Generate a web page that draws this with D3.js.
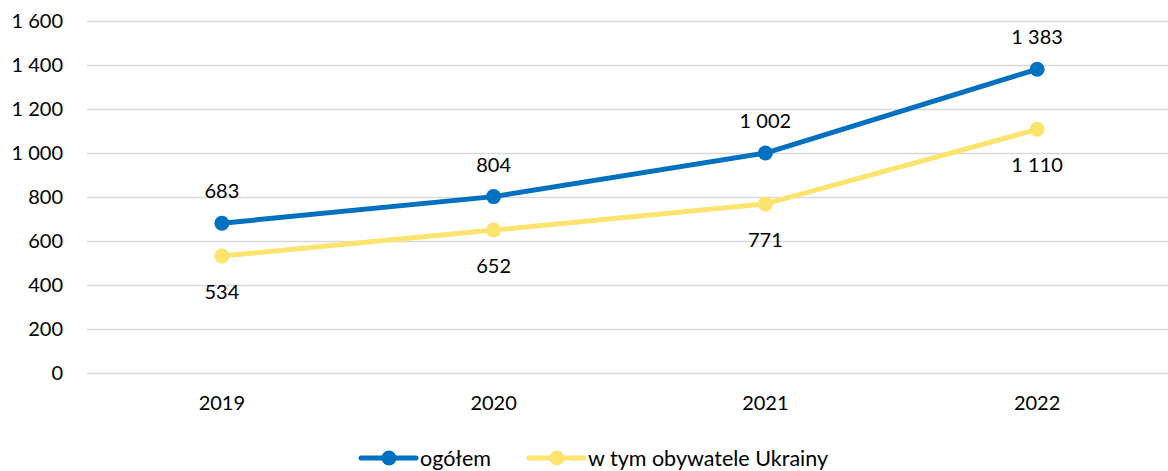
<!DOCTYPE html>
<html>
<head>
<meta charset="utf-8">
<script src="https://cdn.jsdelivr.net/npm/d3@7"></script>
<style>
  html, body { margin: 0; padding: 0; background: #fff; }
  svg { display: block; font-family: Lato, "Open Sans", sans-serif; }
</style>
</head>
<body>
<svg id="chart" width="1168" height="471"></svg>
<script>
// Years on the category axis
const years = ["2019", "2020", "2021", "2022"];
// Total count
const totalValues = [683, 804, 1002, 1383];
// Of which citizens of Ukraine
const ukraineValues = [534, 652, 771, 1110];
// Value axis ticks
const yTicks = [0, 200, 400, 600, 800, 1000, 1200, 1400, 1600];

const seriesNames = ["ogółem", "w tym obywatele Ukrainy"];
const seriesColors = ["#0070C0", "#FCE46F"];

const svg = d3.select("#chart");
const W = 1168;
const FS = 20;

// thousands separated by a space, Polish style
const fmt = v => d3.format(",")(v).replace(/,/g, " ");

const x = d3.scaleBand().domain(years).range([86, 1173]);
const y = d3.scaleLinear().domain([0, 1600]).range([373.5, 21.5]);

// Horizontal gridlines
svg.append("g")
  .selectAll("line")
  .data(yTicks)
  .join("line")
  .attr("x1", 87).attr("x2", W)
  .attr("y1", d => y(d)).attr("y2", d => y(d))
  .attr("stroke", "#d9d9d9")
  .attr("stroke-width", 1.6);

// Y axis labels
const yAxis = d3.axisLeft(y).tickValues(yTicks).tickFormat(fmt).tickSize(0).tickPadding(0);
svg.append("g")
  .attr("transform", "translate(63,0)")
  .call(yAxis)
  .call(g => g.select(".domain").remove())
  .call(g => g.selectAll("text")
    .attr("font-size", FS)
    .attr("font-family", "Lato, 'Open Sans', sans-serif")
    .attr("fill", "#000"));

// X axis labels
const xAxis = d3.axisBottom(x).tickSize(0).tickPadding(0);
svg.append("g")
  .attr("transform", "translate(0,396)")
  .call(xAxis)
  .call(g => g.select(".domain").remove())
  .call(g => g.selectAll("text")
    .attr("font-size", FS)
    .attr("font-family", "Lato, 'Open Sans', sans-serif")
    .attr("fill", "#000"));

const cx = d => x(d) + x.bandwidth() / 2;
const line = d3.line().x(d => cx(d.year)).y(d => y(d.value));

const series = [totalValues, ukraineValues].map((vals, i) => ({
  name: seriesNames[i],
  color: seriesColors[i],
  points: years.map((yr, j) => ({ year: yr, value: vals[j] })),
  labelDy: i === 0 ? -32 : 36
}));

// draw the Ukraine series first so the total line sits on top
series.slice().reverse().forEach(s => {
  const g = svg.append("g");
  g.append("path")
    .datum(s.points)
    .attr("d", line)
    .attr("fill", "none")
    .attr("stroke", s.color)
    .attr("stroke-width", 5)
    .attr("stroke-linejoin", "round");
  g.selectAll("circle")
    .data(s.points)
    .join("circle")
    .attr("cx", d => cx(d.year))
    .attr("cy", d => y(d.value))
    .attr("r", 7.5)
    .attr("fill", s.color);
  g.selectAll("text")
    .data(s.points)
    .join("text")
    .attr("x", d => cx(d.year))
    .attr("y", d => y(d.value) + s.labelDy)
    .attr("dy", "0.35em")
    .attr("text-anchor", "middle")
    .attr("font-size", FS)
    .attr("fill", "#000")
    .text(d => fmt(d.value));
});

// Legend
const legendItems = [
  { x0: 361, ...series[0] },
  { x0: 529, ...series[1] }
];
const ly = 458;
legendItems.forEach(it => {
  const g = svg.append("g");
  g.append("line")
    .attr("x1", it.x0).attr("x2", it.x0 + 55)
    .attr("y1", ly).attr("y2", ly)
    .attr("stroke", it.color).attr("stroke-width", 5)
    .attr("stroke-linecap", "round");
  g.append("circle")
    .attr("cx", it.x0 + 28).attr("cy", ly).attr("r", 7.5)
    .attr("fill", it.color);
  g.append("text")
    .attr("x", it.x0 + 59).attr("y", ly)
    .attr("dy", "0.35em")
    .attr("font-size", 21.5)
    .attr("fill", "#000")
    .text(it.name);
});
</script>
</body>
</html>
